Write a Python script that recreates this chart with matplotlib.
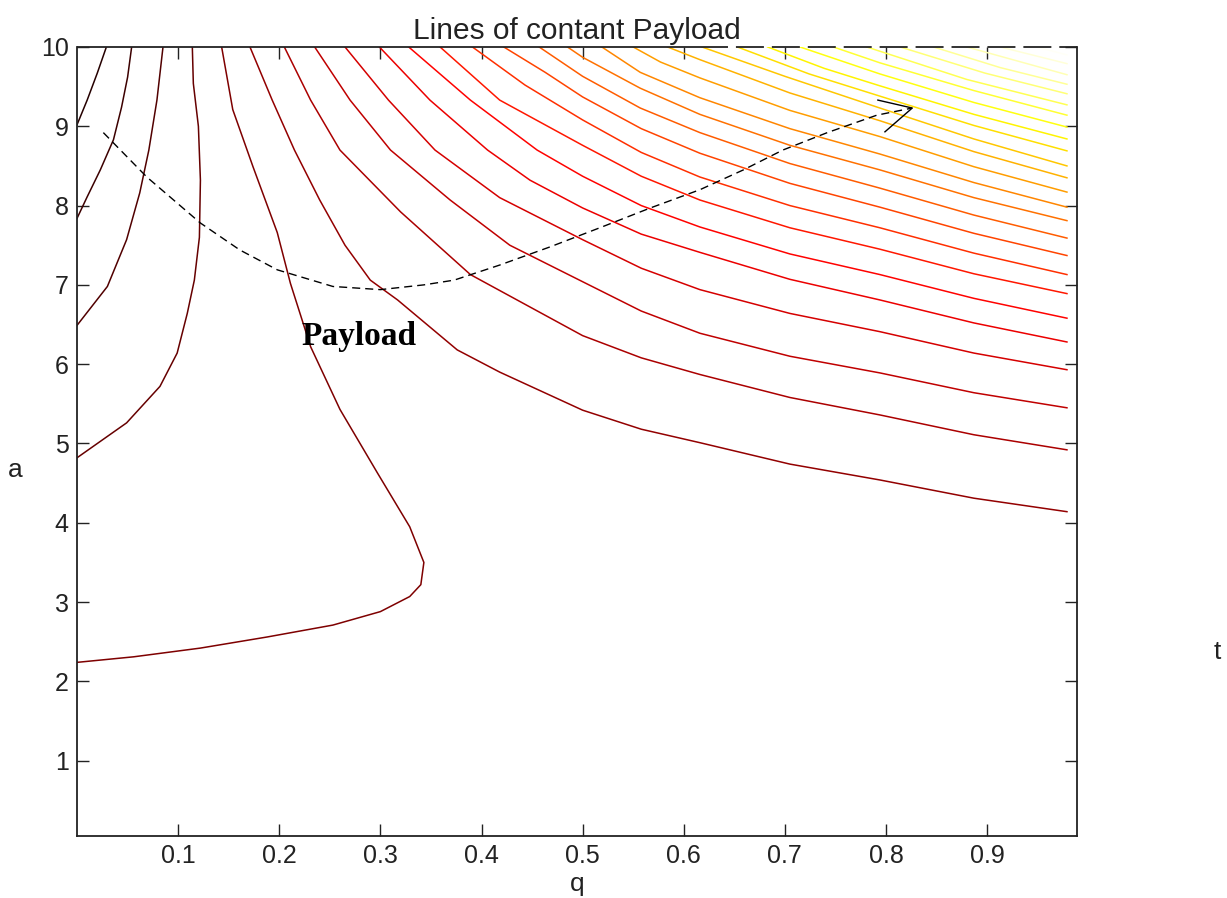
from __future__ import annotations

import matplotlib

matplotlib.use("Agg")
import matplotlib.pyplot as plt
from matplotlib.colors import Normalize

# Contour lines, ordered from the lowest payload
# level (black, top-left corner) to the highest (pale yellow, top-right corner).
A_Q = [0.0, 0.010, 0.020, 0.029]
A_A = [9.02, 9.33, 9.67, 10.0]
B_Q = [0.0, 0.010, 0.023, 0.036, 0.044, 0.050, 0.054]
B_A = [7.84, 8.11, 8.45, 8.83, 9.24, 9.62, 10.0]
C_Q = [0.0, 0.030, 0.049, 0.062, 0.071, 0.079, 0.085]
C_A = [6.49, 6.98, 7.57, 8.16, 8.70, 9.33, 10.0]
D_Q = [0.0, 0.049, 0.082, 0.099, 0.109, 0.116, 0.121, 0.122, 0.120, 0.115, 0.114]
D_A = [4.82, 5.26, 5.72, 6.14, 6.64, 7.06, 7.60, 8.32, 9.00, 9.54, 10.0]
E_Q = [0.143, 0.154, 0.174, 0.198, 0.211, 0.231, 0.260, 0.297, 0.329, 0.343,
       0.340, 0.329, 0.300, 0.253, 0.188, 0.122, 0.056, 0.0]
E_A = [10.0, 9.21, 8.49, 7.66, 7.02, 6.22, 5.43, 4.63, 3.95, 3.50,
       3.22, 3.07, 2.88, 2.71, 2.56, 2.42, 2.31, 2.24]
F_Q = [0.171, 0.193, 0.215, 0.240, 0.265, 0.290, 0.317, 0.376, 0.418, 0.500,
       0.558, 0.616, 0.705, 0.794, 0.887, 0.979]
F_A = [10.0, 9.33, 8.70, 8.07, 7.50, 7.06, 6.81, 6.18, 5.90, 5.42,
       5.18, 5.01, 4.74, 4.54, 4.31, 4.14]
G_Q = [0.205, 0.231, 0.260, 0.320, 0.389, 0.500, 0.558, 0.616, 0.705, 0.794, 0.887, 0.979]
G_A = [10.0, 9.33, 8.70, 7.92, 7.13, 6.36, 6.08, 5.87, 5.58, 5.36, 5.11, 4.92]
H_Q = [0.235, 0.270, 0.310, 0.369, 0.428, 0.500, 0.558, 0.616, 0.705, 0.794, 0.887, 0.979]
H_A = [10.0, 9.33, 8.70, 8.07, 7.50, 7.04, 6.67, 6.39, 6.10, 5.89, 5.64, 5.45]
I_Q = [0.265, 0.308, 0.354, 0.418, 0.500, 0.558, 0.616, 0.705, 0.794, 0.887, 0.979]
I_A = [10.0, 9.33, 8.70, 8.10, 7.57, 7.21, 6.94, 6.64, 6.41, 6.14, 5.93]
J_Q = [0.299, 0.349, 0.406, 0.448, 0.500, 0.558, 0.616, 0.705, 0.794, 0.887, 0.979]
J_A = [10.0, 9.33, 8.70, 8.32, 7.97, 7.64, 7.41, 7.07, 6.81, 6.52, 6.28]
K_Q = [0.328, 0.389, 0.455, 0.500, 0.558, 0.616, 0.705, 0.794, 0.887, 0.979]
K_A = [10.0, 9.33, 8.70, 8.37, 8.00, 7.73, 7.39, 7.13, 6.83, 6.58]
L_Q = [0.359, 0.418, 0.500, 0.558, 0.616, 0.705, 0.794, 0.887, 0.979]
L_A = [10.0, 9.33, 8.76, 8.37, 8.07, 7.72, 7.45, 7.14, 6.89]
M_Q = [0.391, 0.443, 0.500, 0.558, 0.616, 0.705, 0.794, 0.887, 0.979]
M_A = [10.0, 9.52, 9.08, 8.67, 8.36, 8.00, 7.72, 7.40, 7.13]
N_Q = [0.422, 0.463, 0.500, 0.558, 0.616, 0.705, 0.794, 0.887, 0.979]
N_A = [10.0, 9.68, 9.37, 8.97, 8.66, 8.28, 7.98, 7.65, 7.37]
O_Q = [0.457, 0.500, 0.557, 0.616, 0.705, 0.794, 0.887, 0.979]
O_A = [10.0, 9.63, 9.23, 8.92, 8.53, 8.22, 7.88, 7.59]
P_Q = [0.485, 0.500, 0.557, 0.616, 0.705, 0.794, 0.887, 0.979]
P_A = [10.0, 9.87, 9.48, 9.15, 8.76, 8.45, 8.10, 7.81]
Q_Q = [0.519, 0.557, 0.616, 0.705, 0.794, 0.887, 0.979]
Q_A = [10.0, 9.68, 9.36, 8.97, 8.65, 8.29, 7.98]
R_Q = [0.550, 0.577, 0.616, 0.705, 0.794, 0.887, 0.979]
R_A = [10.0, 9.81, 9.61, 9.20, 8.87, 8.49, 8.17]
S_Q = [0.584, 0.616, 0.705, 0.794, 0.887, 0.979]
S_A = [10.0, 9.84, 9.42, 9.07, 8.68, 8.35]
T_Q = [0.618, 0.700, 0.794, 0.887, 0.979]
T_A = [10.0, 9.63, 9.23, 8.84, 8.50]
U_Q = [0.653, 0.724, 0.794, 0.887, 0.979]
U_A = [10.0, 9.66, 9.38, 9.01, 8.69]
V_Q = [0.683, 0.739, 0.794, 0.887, 0.979]
V_A = [10.0, 9.73, 9.51, 9.15, 8.84]
W_Q = [0.715, 0.794, 0.887, 0.979]
W_A = [10.0, 9.66, 9.30, 8.99]
X_Q = [0.748, 0.794, 0.887, 0.979]
X_A = [10.0, 9.80, 9.45, 9.14]
Y_Q = [0.781, 0.880, 0.979]
Y_A = [10.0, 9.59, 9.27]
Z_Q = [0.814, 0.898, 0.979]
Z_A = [10.0, 9.67, 9.41]
AA_Q = [0.847, 0.913, 0.979]
AA_A = [10.0, 9.74, 9.53]
AB_Q = [0.880, 0.979]
AB_A = [10.0, 9.65]
AC_Q = [0.913, 0.979]
AC_A = [10.0, 9.79]
AD_Q = [0.949, 0.979]
AD_A = [10.0, 9.90]

# Dashed optimisation path and its arrow head.
PATH_Q = [0.026, 0.069, 0.122, 0.161, 0.198, 0.253, 0.300, 0.343, 0.373, 0.418,
          0.468, 0.517, 0.567, 0.616, 0.659, 0.698, 0.742, 0.791, 0.826]
PATH_A = [8.92, 8.36, 7.78, 7.44, 7.19, 6.98, 6.94, 7.00, 7.06, 7.25,
          7.48, 7.72, 7.97, 8.20, 8.45, 8.70, 8.92, 9.14, 9.23]
BARB_Q = [0.792, 0.826, 0.799]
BARB_A = [9.33, 9.23, 8.93]

X_TICKS = [0.1, 0.2, 0.3, 0.4, 0.5, 0.6, 0.7, 0.8, 0.9]
Y_TICKS = [1, 2, 3, 4, 5, 6, 7, 8, 9, 10]
X_LIMITS = (0.0, 0.989)
Y_LIMITS = (0.05, 10.0)
DASHED_TOP_FROM = 0.616

CURVES = [
    (A_Q, A_A), (B_Q, B_A), (C_Q, C_A), (D_Q, D_A), (E_Q, E_A),
    (F_Q, F_A), (G_Q, G_A), (H_Q, H_A), (I_Q, I_A), (J_Q, J_A),
    (K_Q, K_A), (L_Q, L_A), (M_Q, M_A), (N_Q, N_A), (O_Q, O_A),
    (P_Q, P_A), (Q_Q, Q_A), (R_Q, R_A), (S_Q, S_A), (T_Q, T_A),
    (U_Q, U_A), (V_Q, V_A), (W_Q, W_A), (X_Q, X_A), (Y_Q, Y_A),
    (Z_Q, Z_A), (AA_Q, AA_A), (AB_Q, AB_A), (AC_Q, AC_A), (AD_Q, AD_A),
]


def draw_contours(axis: plt.Axes) -> None:
    """Draw each contour line coloured by its level on the 'hot' map."""
    cmap = plt.get_cmap("hot")
    norm = Normalize(vmin=-1.3, vmax=29.3)
    for level, (q_values, a_values) in enumerate(CURVES):
        axis.plot(q_values, a_values, color=cmap(norm(level)), linewidth=1.1,
                  solid_joinstyle="round", zorder=2)


def draw_frame(axis: plt.Axes) -> None:
    """MATLAB-like box: inward ticks on every side, partly dashed top edge."""
    axis.set_xlim(*X_LIMITS)
    axis.set_ylim(*Y_LIMITS)
    axis.set_xticks(X_TICKS)
    axis.set_xticklabels([f"{tick:g}" for tick in X_TICKS])
    axis.set_yticks(Y_TICKS)
    axis.set_yticklabels([str(tick) for tick in Y_TICKS])
    axis.tick_params(direction="in", length=8.5, width=1.0, top=True, right=True,
                     labelsize=18, pad=6, colors="#222222")
    for name in ("left", "right", "bottom"):
        axis.spines[name].set_linewidth(1.3)
        axis.spines[name].set_color("#222222")
    axis.spines["top"].set_visible(False)
    axis.plot([X_LIMITS[0], DASHED_TOP_FROM], [Y_LIMITS[1]] * 2, color="#222222",
              linewidth=1.3, clip_on=False, zorder=5, solid_capstyle="butt")
    axis.plot([DASHED_TOP_FROM, X_LIMITS[1]], [Y_LIMITS[1]] * 2, color="#222222",
              linewidth=1.3, dashes=(15.5, 4.4), clip_on=False, zorder=5)


def main() -> None:
    plt.rcParams["font.family"] = ["Liberation Sans", "DejaVu Sans"]
    figure = plt.figure(figsize=(12.27, 8.98), dpi=100)
    axis = figure.add_axes([0.0628, 0.069, 0.815, 0.8787])

    draw_contours(axis)

    axis.plot(PATH_Q, PATH_A, color="black", linewidth=1.0, dashes=(5.8, 3.6), zorder=3)
    axis.plot(BARB_Q, BARB_A, color="black", linewidth=1.0, zorder=3)
    axis.text(0.2785, 6.35, "Payload", family="Liberation Serif", weight="bold",
              fontsize=24, ha="center", va="center", zorder=4)

    draw_frame(axis)

    axis.set_title("Lines of contant Payload", fontsize=21.5, pad=6, color="#222222")
    axis.set_xlabel("q", fontsize=19, color="#222222")
    axis.xaxis.set_label_coords(0.5, -0.045)
    axis.set_ylabel("a", fontsize=19, rotation=0, ha="center", va="center", color="#222222")
    axis.yaxis.set_label_coords(-0.062, 0.464)
    figure.text(1214 / 1227, 0.274, "t", fontsize=19, ha="left", va="center", color="#222222")

    figure.savefig("out.png", dpi=100)
    plt.close(figure)


if __name__ == "__main__":
    main()
